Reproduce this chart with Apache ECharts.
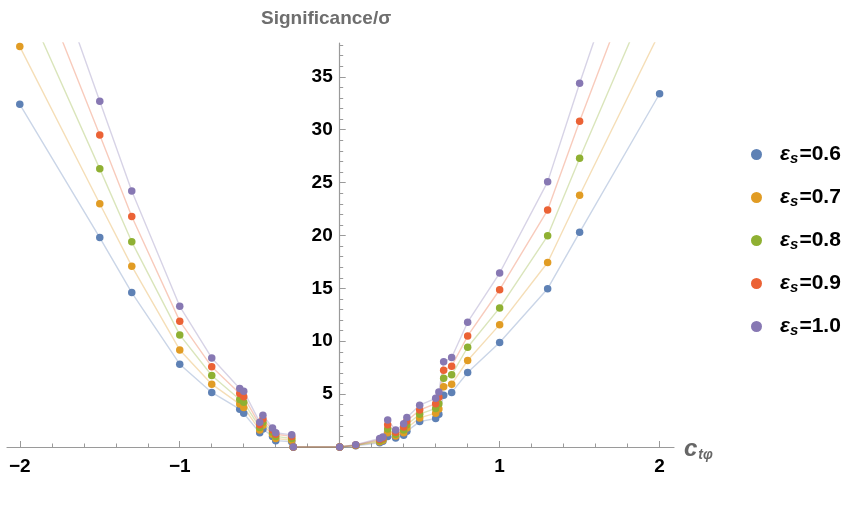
<!DOCTYPE html>
<html>
<head>
<meta charset="utf-8">
<script src="https://cdn.jsdelivr.net/npm/echarts@6/dist/echarts.min.js"></script>
<style>html,body{margin:0;padding:0;background:#fff}#c{width:851px;height:530px}</style>
</head>
<body>
<div id="c"></div>
<script>
// c_tφ values (shared by all series)
const xValues = [-2, -1.5, -1.3, -1, -0.8, -0.625, -0.6, -0.5, -0.48, -0.42, -0.4, -0.3, -0.29, 0, 0.1, 0.25, 0.27, 0.3, 0.35, 0.4, 0.42, 0.5, 0.6, 0.62, 0.65, 0.7, 0.8, 1, 1.3, 1.5, 2];
// Significance/σ for each ε_s
const eps06 = [32.4, 19.8, 14.6, 7.83, 5.16, 3.58, 3.18, 1.35, 1.7, 1.0, 0.6, 0.5, 0, 0, 0.12, 0.4, 0.55, 1.0, 0.85, 1.1, 1.5, 2.4, 2.7, 3.1, 4.9, 5.16, 7.05, 9.88, 14.97, 20.3, 33.4];
const eps07 = [37.86, 23.0, 17.1, 9.18, 5.94, 4.06, 3.74, 1.6, 2.05, 1.2, 0.8, 0.65, 0, 0, 0.15, 0.5, 0.65, 1.35, 1.05, 1.35, 1.8, 2.75, 3.2, 3.6, 5.7, 5.94, 8.18, 11.57, 17.45, 23.8, 39.2];
const eps08 = [43.2, 26.3, 19.4, 10.6, 6.76, 4.5, 4.22, 1.85, 2.35, 1.4, 1.0, 0.8, 0, 0, 0.17, 0.6, 0.75, 1.7, 1.2, 1.6, 2.1, 3.1, 3.65, 4.1, 6.5, 6.82, 9.43, 13.15, 19.97, 27.3, 44.9];
const eps09 = [48.5, 29.5, 21.8, 11.9, 7.58, 5.06, 4.75, 2.1, 2.65, 1.6, 1.2, 1.0, 0, 0, 0.19, 0.7, 0.85, 2.1, 1.4, 1.9, 2.45, 3.5, 4.1, 4.7, 7.26, 7.64, 10.5, 14.87, 22.4, 30.8, 50.7];
const eps10 = [54, 32.7, 24.2, 13.3, 8.42, 5.54, 5.28, 2.35, 3.0, 1.8, 1.35, 1.15, 0, 0, 0.21, 0.8, 0.95, 2.55, 1.6, 2.2, 2.8, 3.95, 4.6, 5.2, 8.05, 8.46, 11.8, 16.45, 25.07, 34.4, 56.6];
const seriesNames = ['0.6', '0.7', '0.8', '0.9', '1.0'];
const seriesValues = [eps06, eps07, eps08, eps09, eps10];
// ticks
const xMajorTicks = [-2, -1, 1, 2];
const xMinorTicks = [-2, -1.8, -1.6, -1.4, -1.2, -1, -0.8, -0.6, -0.4, -0.2, 0.2, 0.4, 0.6, 0.8, 1, 1.2, 1.4, 1.6, 1.8, 2];
const yMajorTicks = [5, 10, 15, 20, 25, 30, 35];
const yMinorTicks = [1,2,3,4,6,7,8,9,11,12,13,14,16,17,18,19,21,22,23,24,26,27,28,29,31,32,33,34,36,37,38];

const colors = ['#5E81B5', '#E19C24', '#8FB032', '#EB6235', '#8778B3'];
const FONT = '"Liberation Sans", Arial, sans-serif';

const X_MIN = -2.08, X_MAX = 2.09;
const GRID_LEFT = 7, GRID_RIGHT = 177, CHART_W = 851;
const plotW = CHART_W - GRID_LEFT - GRID_RIGHT;
// shift the vertical axis so it sits where c_tφ = 0
const yAxisOffset = -((0 - X_MIN) / (X_MAX - X_MIN) * plotW);

const chart = echarts.init(document.getElementById('c'));
const series = seriesNames.map((n, i) => ({
  name: n,
  type: 'line',
  xAxisIndex: 0, yAxisIndex: 0,
  data: xValues.map((x, k) => [x, seriesValues[i][k]]),
  symbol: 'circle',
  symbolSize: 7.5,
  showAllSymbol: true,
  clip: true,
  itemStyle: { color: colors[i] },
  lineStyle: { color: colors[i], width: 1.4, opacity: 0.33 },
  emphasis: { disabled: true },
  animation: false
}));

const axisColor = '#9a9a9a';
chart.setOption({
  animation: false,
  color: colors,
  textStyle: { fontFamily: FONT },
  title: {
    text: 'Significance/σ',
    left: 256, top: 4,
    textStyle: { fontFamily: FONT, fontSize: 19, fontWeight: 'bold', color: '#6e6e6e' }
  },
  grid: { left: GRID_LEFT, right: GRID_RIGHT, top: 43, bottom: 83, containLabel: false, outerBoundsMode: 'none' },
  legend: {
    orient: 'vertical',
    left: 746, top: 136,
    itemWidth: 11, itemHeight: 11,
    itemGap: 18,
    icon: 'circle',
    selectedMode: false,
    data: seriesNames,
    formatter: n => '{e|ε}{s|s}{t|=' + n + '}',
    textStyle: {
      fontFamily: FONT,
      rich: {
        e: { fontFamily: FONT, fontSize: 21, fontWeight: 'bold', fontStyle: 'italic', color: '#000', lineHeight: 23, padding: [0, 0, 0, 13] },
        s: { fontFamily: FONT, fontSize: 15, fontWeight: 'bold', fontStyle: 'italic', color: '#000', verticalAlign: 'bottom', padding: [10, 1, 0, 0], lineHeight: 14 },
        t: { fontFamily: FONT, fontSize: 21, fontWeight: 'bold', color: '#000', lineHeight: 23 }
      }
    }
  },
  xAxis: [{
    type: 'value', min: X_MIN, max: X_MAX,
    axisLine: { onZero: true, lineStyle: { color: axisColor, width: 1.2 } },
    axisTick: { show: true, inside: true, length: 6, customValues: xMajorTicks, lineStyle: { color: axisColor } },
    axisLabel: { customValues: xMajorTicks, fontFamily: FONT, fontSize: 19, fontWeight: 'bold', color: '#000', margin: 10,
      formatter: v => String(v).replace('-', '−') },
    splitLine: { show: false }
  }, {
    type: 'value', min: X_MIN, max: X_MAX, position: 'bottom',
    axisLine: { show: false, onZero: false },
    axisTick: { show: true, inside: true, length: 3.5, customValues: xMinorTicks, lineStyle: { color: axisColor } },
    axisLabel: { show: false },
    splitLine: { show: false }
  }],
  yAxis: [{
    type: 'value', min: 0, max: 38.2, interval: 5, position: 'left', offset: yAxisOffset,
    axisLine: { show: true, onZero: false, lineStyle: { color: axisColor, width: 1.2 } },
    axisTick: { show: true, inside: true, length: 6, customValues: yMajorTicks, lineStyle: { color: axisColor } },
    axisLabel: { customValues: yMajorTicks, fontFamily: FONT, fontSize: 19, fontWeight: 'bold', color: '#000', margin: 7 },
    splitLine: { show: false }
  }, {
    type: 'value', min: 0, max: 38.2, interval: 5, position: 'left', offset: yAxisOffset,
    axisLine: { show: false, onZero: false },
    axisTick: { show: true, inside: true, length: 3.5, customValues: yMinorTicks, lineStyle: { color: axisColor } },
    axisLabel: { show: false },
    splitLine: { show: false }
  }],
  graphic: [{
    type: 'text',
    left: 684, top: 436,
    style: {
      text: '{c|c}{s|tφ}',
      rich: {
        c: { fontFamily: FONT, fontSize: 24, fontStyle: 'italic', fontWeight: 'bold', fill: '#666', lineHeight: 26 },
        s: { fontFamily: FONT, fontSize: 14, fontStyle: 'italic', fontWeight: 'bold', fill: '#666', verticalAlign: 'bottom', padding: [12, 0, 0, 1], lineHeight: 14 }
      }
    }
  }],
  series: series
});
</script>
</body>
</html>
